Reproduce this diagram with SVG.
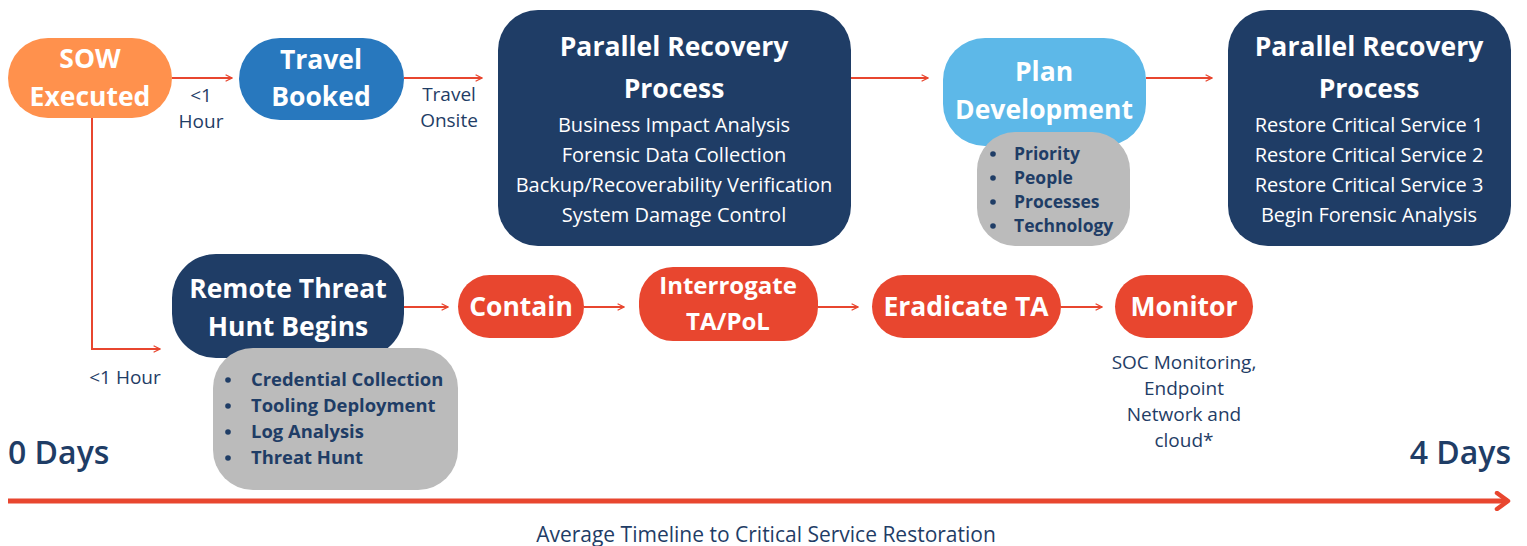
<svg xmlns="http://www.w3.org/2000/svg" width="1527" height="546" viewBox="0 0 1527 546">
<defs>
<marker id="ah" viewBox="0 0 10 10" refX="9" refY="5" markerWidth="8" markerHeight="8" markerUnits="userSpaceOnUse" orient="auto">
<path d="M1,1 L9,5 L1,9" fill="none" stroke="#E8462F" stroke-width="1.6"/>
</marker>
<marker id="bigah" viewBox="0 0 20 20" refX="17" refY="10" markerWidth="20" markerHeight="20" markerUnits="userSpaceOnUse" orient="auto">
<path d="M6,2 L17,10 L6,18" fill="none" stroke="#E8462F" stroke-width="4.5" stroke-linecap="round" stroke-linejoin="round"/>
</marker>
</defs>
<style>
text{font-family:"Open Sans","Noto Sans",sans-serif;}
.t{fill:#fff;font-weight:700;font-size:26.5px;text-anchor:middle;}
.s{fill:#fff;font-size:20px;text-anchor:middle;}
.g{fill:#1F3D66;font-weight:700;font-size:18.4px;}
.l{fill:#1F3D66;font-size:19px;text-anchor:middle;}
.c{fill:none;stroke:#E8462F;stroke-width:2;}
.navy{fill:#1F3D66;}
.red{fill:#E8462F;}
.gray{fill:#BBBBBB;}
</style>
<rect width="1527" height="546" fill="#fff"/>

<g id="connectors">
<line class="c" x1="172" y1="78" x2="232" y2="78" marker-end="url(#ah)"/>
<line class="c" x1="404" y1="78" x2="482" y2="78" marker-end="url(#ah)"/>
<line class="c" x1="851" y1="78" x2="928" y2="78" marker-end="url(#ah)"/>
<line class="c" x1="1146" y1="78" x2="1212" y2="78" marker-end="url(#ah)"/>
<polyline class="c" points="92,118 92,349 160,349" marker-end="url(#ah)"/>
<line class="c" x1="404" y1="307" x2="448" y2="307" marker-end="url(#ah)"/>
<line class="c" x1="584" y1="307" x2="624" y2="307" marker-end="url(#ah)"/>
<line class="c" x1="818" y1="307" x2="858" y2="307" marker-end="url(#ah)"/>
<line class="c" x1="1061" y1="307" x2="1102" y2="307" marker-end="url(#ah)"/>
<text class="l" x="201" y="102">&lt;1</text>
<text class="l" x="201" y="128">Hour</text>
<text class="l" x="449" y="101">Travel</text>
<text class="l" x="449" y="127">Onsite</text>
<text class="l" x="125" y="384">&lt;1 Hour</text>
</g>

<g id="sow">
<rect x="8" y="38" width="164" height="80" rx="40" fill="#FF914D"/>
<text class="t" x="90" y="68">SOW</text>
<text class="t" x="90" y="106">Executed</text>
</g>

<g id="travel">
<rect x="239" y="38" width="165" height="82" rx="41" fill="#2878BE"/>
<text class="t" x="321" y="69">Travel</text>
<text class="t" x="321" y="106">Booked</text>
</g>

<g id="prp1">
<rect x="498" y="10" width="353" height="236" rx="40" class="navy"/>
<text class="t" x="674" y="56">Parallel Recovery</text>
<text class="t" x="674" y="98">Process</text>
<text class="s" x="674" y="132">Business Impact Analysis</text>
<text class="s" x="674" y="162">Forensic Data Collection</text>
<text class="s" x="674" y="192">Backup/Recoverability Verification</text>
<text class="s" x="674" y="222">System Damage Control</text>
</g>

<g id="plan">
<rect x="943" y="38" width="203" height="108" rx="42" fill="#5DB8E8"/>
<text class="t" x="1044" y="81">Plan</text>
<text class="t" x="1044" y="119">Development</text>
</g>

<g id="plan-items">
<rect x="977" y="132" width="153" height="114" rx="38" class="gray"/>
<circle cx="993" cy="154" r="2.8" class="navy"/>
<circle cx="993" cy="178" r="2.8" class="navy"/>
<circle cx="993" cy="202" r="2.8" class="navy"/>
<circle cx="993" cy="226" r="2.8" class="navy"/>
<text class="g" x="1014" y="160" style="font-size:17.5px">Priority</text>
<text class="g" x="1014" y="184" style="font-size:17.5px">People</text>
<text class="g" x="1014" y="208" style="font-size:17.5px">Processes</text>
<text class="g" x="1014" y="232" style="font-size:17.5px">Technology</text>
</g>

<g id="prp2">
<rect x="1228" y="10" width="283" height="236" rx="40" class="navy"/>
<text class="t" x="1369" y="56">Parallel Recovery</text>
<text class="t" x="1369" y="98">Process</text>
<text class="s" x="1369" y="132">Restore Critical Service 1</text>
<text class="s" x="1369" y="162">Restore Critical Service 2</text>
<text class="s" x="1369" y="192">Restore Critical Service 3</text>
<text class="s" x="1369" y="222">Begin Forensic Analysis</text>
</g>

<g id="remote">
<rect x="172" y="254" width="232" height="104" rx="44" class="navy"/>
<text class="t" x="288" y="298">Remote Threat</text>
<text class="t" x="288" y="336">Hunt Begins</text>
</g>

<g id="remote-items">
<rect x="213" y="348" width="245" height="142" rx="40" class="gray"/>
<circle cx="228" cy="380" r="2.8" class="navy"/>
<circle cx="228" cy="406" r="2.8" class="navy"/>
<circle cx="228" cy="432" r="2.8" class="navy"/>
<circle cx="228" cy="458" r="2.8" class="navy"/>
<text class="g" x="251" y="386">Credential Collection</text>
<text class="g" x="251" y="412">Tooling Deployment</text>
<text class="g" x="251" y="438">Log Analysis</text>
<text class="g" x="251" y="464">Threat Hunt</text>
</g>

<g id="contain">
<rect x="458" y="275" width="126" height="63" rx="31.5" class="red"/>
<text class="t" x="521" y="316">Contain</text>
</g>

<g id="interrogate">
<rect x="639" y="267" width="179" height="74" rx="34" class="red"/>
<text class="t" x="728" y="294" style="font-size:24px">Interrogate</text>
<text class="t" x="728" y="330" style="font-size:24px">TA/PoL</text>
</g>

<g id="eradicate">
<rect x="872" y="275" width="189" height="63" rx="31.5" class="red"/>
<text class="t" x="966" y="316">Eradicate TA</text>
</g>

<g id="monitor">
<rect x="1115" y="275" width="138" height="63" rx="31.5" class="red"/>
<text class="t" x="1184" y="316">Monitor</text>
<text class="l" x="1184" y="369">SOC Monitoring,</text>
<text class="l" x="1184" y="395">Endpoint</text>
<text class="l" x="1184" y="421">Network and</text>
<text class="l" x="1184" y="447">cloud*</text>
</g>

<g id="timeline">
<line x1="8" y1="501" x2="1508" y2="501" stroke="#E8462F" stroke-width="5" marker-end="url(#bigah)"/>
<text x="8" y="464" style="fill:#1F3D66;font-size:32px;font-weight:600">0 Days</text>
<text x="1511" y="464" style="fill:#1F3D66;font-size:32px;font-weight:600;text-anchor:end">4 Days</text>
<text class="l" x="766" y="542" style="font-size:21px">Average Timeline to Critical Service Restoration</text>
</g>
</svg>
